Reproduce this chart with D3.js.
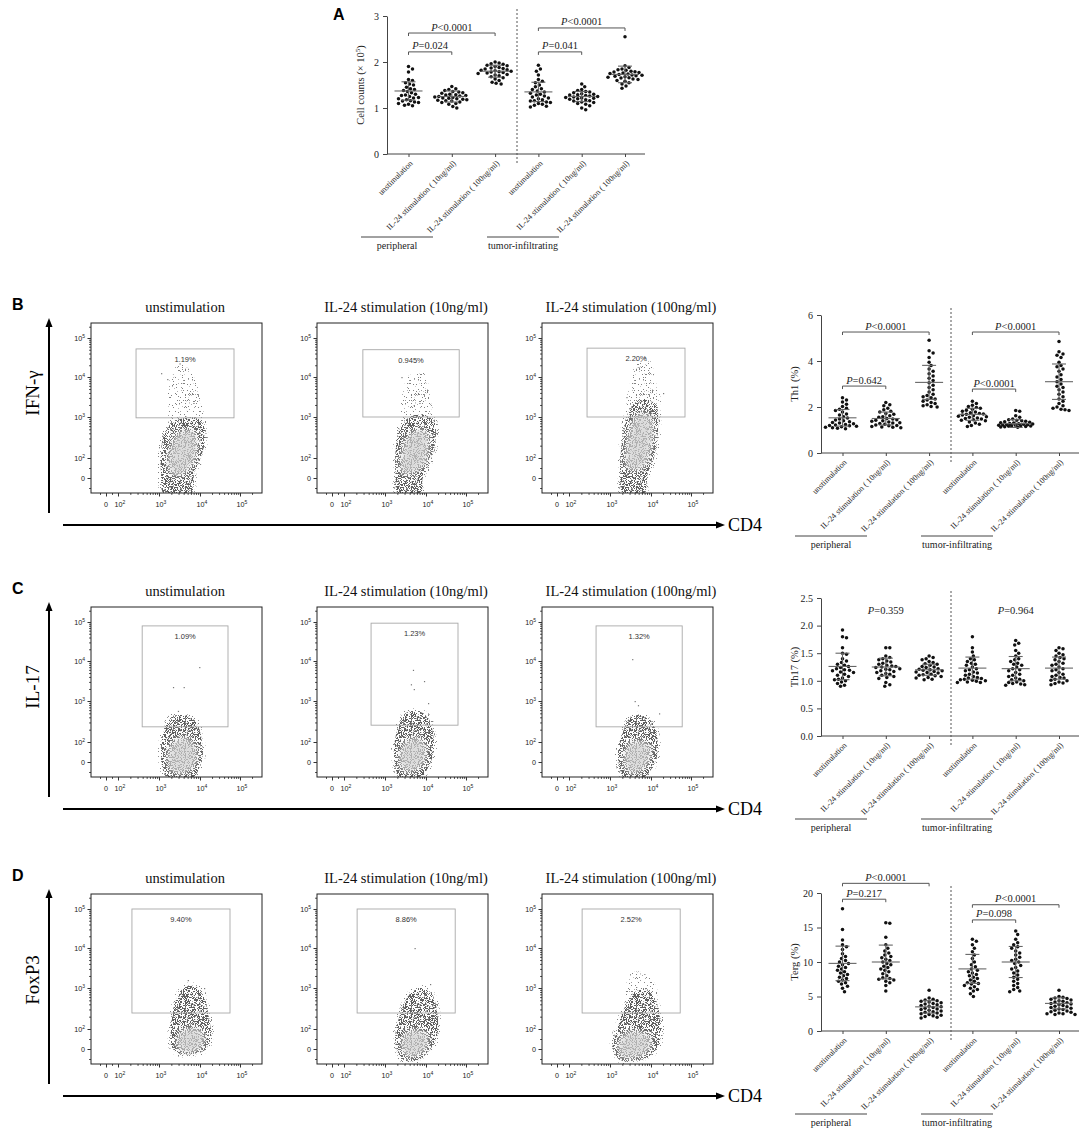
<!DOCTYPE html>
<html>
<head>
<meta charset="utf-8">
<script src="https://cdn.jsdelivr.net/npm/d3@7"></script>
<style>
  body { margin: 0; background: #fff; }
  svg { display: block; }
</style>
</head>
<body>
<div id="chart"></div>
<script>
// ---------- data ----------
const groupLabels = ["unstimulation", "IL-24 stimulation ( 10ng/ml)", "IL-24 stimulation ( 100ng/ml)"];
const sourceLabels = ["peripheral", "tumor-infiltrating"];
const flowTitles = ["unstimulation", "IL-24 stimulation (10ng/ml)", "IL-24 stimulation (100ng/ml)"];

// Panel A, cell counts (x 10^5): periph unstim, 10ng, 100ng, tumor unstim, 10ng, 100ng
const cellCounts = [
  [1.90,1.85,1.78,1.62,1.60,1.55,1.52,1.50,1.45,1.42,1.40,1.38,1.36,1.33,1.30,1.28,1.27,1.25,1.23,1.22,1.20,1.18,1.16,1.15,1.13,1.12,1.10,1.08,1.06,1.05],
  [1.47,1.42,1.40,1.38,1.36,1.35,1.33,1.32,1.30,1.29,1.28,1.27,1.26,1.25,1.24,1.23,1.22,1.21,1.20,1.19,1.18,1.17,1.16,1.15,1.13,1.12,1.10,1.08,1.03,1.00],
  [2.00,1.98,1.96,1.95,1.93,1.92,1.90,1.88,1.87,1.86,1.85,1.83,1.82,1.81,1.80,1.79,1.78,1.77,1.76,1.75,1.73,1.72,1.70,1.68,1.66,1.63,1.60,1.56,1.54,1.52],
  [1.93,1.85,1.80,1.72,1.62,1.58,1.55,1.50,1.46,1.42,1.40,1.37,1.35,1.32,1.30,1.28,1.26,1.24,1.22,1.20,1.18,1.16,1.15,1.13,1.12,1.10,1.08,1.06,1.04,1.02],
  [1.52,1.46,1.40,1.38,1.36,1.35,1.33,1.31,1.30,1.29,1.28,1.27,1.26,1.25,1.24,1.23,1.22,1.21,1.20,1.19,1.18,1.16,1.15,1.13,1.12,1.10,1.08,1.05,1.00,0.96],
  [2.55,1.92,1.88,1.85,1.83,1.82,1.80,1.79,1.78,1.77,1.76,1.75,1.74,1.73,1.72,1.71,1.70,1.69,1.68,1.67,1.66,1.65,1.63,1.62,1.60,1.58,1.55,1.52,1.48,1.43]
];
const cellCountsMean = [1.37, 1.25, 1.80, 1.35, 1.25, 1.73];
const cellCountsSd = [0.20, 0.12, 0.13, 0.21, 0.11, 0.18];
const cellCountsBrackets = [[0, 2, 2.63, "<0.0001"], [0, 1, 2.22, "=0.024"], [3, 5, 2.74, "<0.0001"], [3, 4, 2.22, "=0.041"]];

// Panel B, Th1 (%)
const th1 = [
  [2.40,2.30,2.22,2.12,2.02,1.95,1.90,1.85,1.78,1.70,1.65,1.58,1.52,1.48,1.44,1.40,1.36,1.33,1.30,1.27,1.24,1.22,1.20,1.18,1.16,1.14,1.12,1.10,1.08,1.05],
  [2.20,2.10,2.05,1.95,1.88,1.82,1.78,1.72,1.68,1.62,1.58,1.55,1.50,1.48,1.45,1.42,1.40,1.38,1.35,1.32,1.30,1.28,1.25,1.22,1.20,1.18,1.15,1.13,1.12,1.10],
  [4.90,4.45,4.35,4.15,3.95,3.80,3.65,3.55,3.45,3.35,3.25,3.15,3.05,2.95,2.85,2.75,2.65,2.55,2.50,2.45,2.40,2.35,2.30,2.25,2.20,2.15,2.10,2.05,2.02,2.00],
  [2.25,2.15,2.08,2.02,1.98,1.95,1.90,1.86,1.82,1.78,1.75,1.72,1.70,1.68,1.65,1.62,1.60,1.58,1.55,1.52,1.50,1.48,1.45,1.42,1.40,1.35,1.30,1.25,1.20,1.15],
  [1.85,1.82,1.62,1.55,1.48,1.45,1.42,1.40,1.38,1.36,1.34,1.32,1.30,1.28,1.27,1.26,1.25,1.24,1.23,1.22,1.21,1.20,1.19,1.18,1.17,1.16,1.15,1.14,1.13,1.12],
  [4.85,4.40,4.30,4.25,4.15,3.95,3.80,3.75,3.65,3.55,3.40,3.30,3.20,3.10,3.00,2.90,2.85,2.75,2.65,2.55,2.45,2.35,2.25,2.15,2.05,2.00,1.95,1.90,1.88,1.85]
];
const th1Mean = [1.53, 1.50, 3.07, 1.68, 1.28, 3.10];
const th1Sd = [0.36, 0.28, 0.74, 0.26, 0.17, 0.77];
const th1Brackets = [[0, 2, 5.26, "<0.0001"], [0, 1, 2.91, "=0.642"], [3, 5, 5.26, "<0.0001"], [3, 4, 2.78, "<0.0001"]];

// Panel C, Th17 (%)
const th17 = [
  [1.92,1.80,1.78,1.60,1.50,1.48,1.40,1.36,1.33,1.30,1.28,1.26,1.24,1.22,1.20,1.19,1.18,1.16,1.15,1.12,1.10,1.08,1.05,1.03,1.02,1.00,0.98,0.95,0.92,0.90],
  [1.60,1.60,1.45,1.42,1.40,1.38,1.36,1.34,1.32,1.30,1.28,1.27,1.26,1.25,1.24,1.22,1.21,1.20,1.18,1.17,1.15,1.13,1.12,1.10,1.08,1.06,1.04,0.97,0.93,0.90],
  [1.45,1.42,1.40,1.38,1.35,1.33,1.31,1.30,1.28,1.26,1.25,1.24,1.22,1.21,1.20,1.19,1.18,1.17,1.16,1.15,1.14,1.12,1.11,1.10,1.09,1.08,1.06,1.05,1.03,1.02],
  [1.80,1.60,1.52,1.45,1.40,1.38,1.35,1.32,1.30,1.28,1.25,1.22,1.20,1.18,1.16,1.14,1.12,1.10,1.08,1.06,1.05,1.04,1.03,1.02,1.01,1.00,0.99,0.98,0.97,0.97],
  [1.73,1.68,1.65,1.55,1.50,1.45,1.40,1.38,1.35,1.32,1.30,1.28,1.25,1.22,1.20,1.18,1.15,1.12,1.10,1.08,1.05,1.03,1.02,1.00,0.98,0.97,0.95,0.94,0.93,0.92],
  [1.60,1.58,1.55,1.50,1.47,1.45,1.42,1.40,1.38,1.35,1.32,1.30,1.28,1.25,1.22,1.20,1.18,1.15,1.12,1.10,1.08,1.06,1.05,1.03,1.01,1.00,0.98,0.96,0.95,0.93]
];
const th17Mean = [1.26, 1.25, 1.20, 1.23, 1.22, 1.23];
const th17Sd = [0.24, 0.16, 0.10, 0.20, 0.22, 0.20];
const th17Notes = [[1, 2.21, "=0.359"], [4, 2.21, "=0.964"]];

// Panel D, Terg (%)
const terg = [
  [17.7,14.7,13.2,12.5,12.2,11.8,11.2,10.8,10.5,10.2,10.0,9.8,9.6,9.4,9.2,9.0,8.8,8.6,8.4,8.2,8.0,7.8,7.6,7.4,7.2,7.0,6.8,6.5,6.2,5.7],
  [15.7,15.6,13.6,12.5,12.0,11.6,11.3,11.0,10.8,10.6,10.4,10.2,10.0,9.8,9.6,9.4,9.2,9.0,8.8,8.6,8.3,8.0,7.7,7.6,7.5,7.4,7.2,7.0,6.6,5.8],
  [5.9,4.8,4.6,4.5,4.4,4.3,4.2,4.1,4.0,3.9,3.8,3.7,3.6,3.5,3.4,3.3,3.2,3.1,3.0,2.9,2.8,2.7,2.6,2.5,2.4,2.3,2.2,2.1,2.0,1.9],
  [13.3,13.0,12.5,12.0,11.5,11.0,10.5,10.0,9.6,9.3,9.0,8.8,8.6,8.4,8.2,8.0,7.8,7.6,7.4,7.2,7.0,6.9,6.8,6.6,6.4,6.2,6.0,5.8,5.4,5.0],
  [14.5,14.0,13.3,12.8,12.5,12.2,12.0,11.6,11.3,11.0,10.7,10.4,10.2,10.0,9.8,9.5,9.2,9.0,8.7,8.4,8.1,7.8,7.5,7.2,6.9,6.6,6.3,6.0,5.8,5.7],
  [5.9,5.0,4.9,4.8,4.7,4.6,4.5,4.4,4.3,4.2,4.1,4.0,3.9,3.8,3.7,3.6,3.5,3.4,3.3,3.2,3.1,3.0,2.9,2.8,2.7,2.6,2.5,2.5,2.4,2.4]
];
const tergMean = [9.8, 10.0, 3.5, 9.0, 10.0, 4.0];
const tergSd = [2.5, 2.45, 0.9, 2.1, 2.25, 0.8];
const tergBrackets = [[0, 2, 21.4, "<0.0001"], [0, 1, 19.1, "=0.217"], [3, 5, 18.3, "<0.0001"], [3, 4, 16.1, "=0.098"]];

// Flow plots: gates [xmin, xmax, ymin, ymax] and event clouds in log10 decades
const ifnPercent = ["1.19%", "0.945%", "2.20%"];
const il17Percent = ["1.09%", "1.23%", "1.32%"];
const foxp3Percent = ["9.40%", "8.86%", "2.52%"];

const ifnGates = [[2.44, 4.85, 2.98, 4.72], [2.46, 4.83, 3.0, 4.7], [2.44, 4.85, 3.0, 4.74]];
const il17Gates = [[2.59, 4.7, 2.37, 4.9], [2.66, 4.8, 2.41, 4.97], [2.66, 4.78, 2.37, 4.9]];
const foxp3Gates = [[2.34, 4.75, 2.39, 5.0], [2.32, 4.73, 2.39, 5.0], [2.32, 4.73, 2.39, 5.0]];

const ifnClouds = [
  { outer: [[3.12,-1.6],[3.05,0.5],[3.04,1.8],[3.1,2.5],[3.3,2.85],[3.6,2.97],[3.9,2.97],[4.1,2.85],[4.12,2.4],[3.97,1.5],[3.86,0.5],[3.78,-1.6]],
    core: [[3.28,0.6],[3.26,2.1],[3.5,2.6],[3.82,2.65],[3.9,2.1],[3.72,1.0],[3.5,0.3]],
    tail: [[3.3,2.8],[3.22,3.6],[3.35,4.2],[3.6,4.3],[3.85,4.0],[4.02,3.4],[4.08,2.85]],
    dots: [[3.05,4.1],[3.2,3.95],[3.5,4.35]] },
  { outer: [[3.32,-1.6],[3.26,0.5],[3.25,2.0],[3.35,2.7],[3.6,3.0],[3.95,3.05],[4.2,2.9],[4.22,2.3],[4.06,1.3],[3.92,0],[3.86,-1.6]],
    core: [[3.44,0.5],[3.42,2.1],[3.65,2.6],[3.98,2.65],[4.02,2.0],[3.8,0.8]],
    tail: [[3.45,2.95],[3.45,3.7],[3.6,4.05],[3.95,4.1],[4.1,3.5],[4.15,2.95]],
    dots: [[3.4,4.0],[3.7,3.3]] },
  { outer: [[3.32,-1.6],[3.25,0.5],[3.27,2.2],[3.4,3.0],[3.6,3.35],[3.85,3.45],[4.12,3.3],[4.18,2.8],[4.06,1.8],[3.92,0.5],[3.82,-1.6]],
    core: [[3.44,1.0],[3.46,2.5],[3.68,3.05],[3.98,3.0],[4.0,2.3],[3.8,1.1]],
    tail: [[3.45,3.2],[3.5,3.9],[3.7,4.45],[3.95,4.45],[4.12,3.9],[4.22,3.3]],
    dots: [[4.3,3.6],[3.85,4.5],[3.4,3.5]] }
];
const il17Clouds = [
  { outer: [[3.2,-1.6],[3.08,-0.5],[3.05,1.0],[3.1,2.2],[3.3,2.6],[3.6,2.65],[3.9,2.5],[4.05,2.0],[4.06,0.5],[3.96,-0.8],[3.82,-1.6]],
    core: [[3.3,-0.8],[3.24,1.0],[3.38,2.0],[3.66,2.1],[3.88,1.5],[3.88,-0.1],[3.62,-1.0]],
    dots: [[3.98,3.85],[3.34,3.35],[3.6,3.35],[3.46,2.76]] },
  { outer: [[3.35,-1.6],[3.25,-0.3],[3.22,1.2],[3.3,2.3],[3.5,2.7],[3.8,2.75],[4.05,2.6],[4.2,2.0],[4.16,0.5],[4.02,-0.8],[3.86,-1.6]],
    core: [[3.44,-0.7],[3.38,1.0],[3.53,2.0],[3.82,2.1],[3.98,1.3],[3.92,-0.1],[3.7,-0.8]],
    dots: [[3.68,3.78],[3.95,3.5],[3.63,3.42],[3.7,3.3],[4.05,2.95]] },
  { outer: [[3.35,-1.6],[3.22,-0.3],[3.2,1.2],[3.3,2.2],[3.5,2.6],[3.8,2.65],[4.05,2.45],[4.17,1.8],[4.13,0.3],[3.96,-1.0],[3.8,-1.6]],
    core: [[3.44,-0.8],[3.38,1.0],[3.53,1.9],[3.82,2.0],[3.98,1.2],[3.88,-0.3],[3.65,-1.0]],
    dots: [[3.54,4.05],[3.68,2.9],[4.2,2.7],[3.6,3.0]] }
];
const foxp3Clouds = [
  { outer: [[3.45,-0.4],[3.3,0.3],[3.28,1.5],[3.35,2.5],[3.55,2.95],[3.8,3.07],[4.05,2.9],[4.22,2.3],[4.27,1.2],[4.15,0.0],[3.9,-0.45]],
    core: [[3.52,-0.1],[3.46,1.0],[3.62,1.9],[3.98,1.9],[4.1,1.0],[3.98,0.0],[3.75,-0.25]],
    dots: [[3.7,3.2],[4.1,3.0]] },
  { outer: [[3.45,-1.1],[3.3,-0.2],[3.25,1.2],[3.35,2.3],[3.6,2.85],[3.9,3.0],[4.15,2.85],[4.3,2.2],[4.25,1.0],[4.05,-0.3],[3.8,-1.1]],
    core: [[3.48,-0.5],[3.42,0.8],[3.58,1.7],[3.92,1.7],[4.05,0.7],[3.88,-0.4],[3.65,-0.7]],
    dots: [[3.72,4.0],[4.1,3.1]] },
  { outer: [[3.25,-1.1],[3.1,-0.3],[3.07,0.8],[3.15,1.8],[3.35,2.5],[3.6,2.9],[3.9,2.95],[4.15,2.6],[4.25,1.8],[4.2,0.5],[4.0,-0.6],[3.7,-1.1]],
    core: [[3.28,-0.7],[3.22,0.6],[3.38,1.5],[3.78,1.6],[4.0,0.8],[3.88,-0.3],[3.55,-0.8]],
    tail: [[3.4,2.6],[3.5,3.35],[3.75,3.4],[4.1,3.1],[4.15,2.7]],
    dots: [] }
];

// ---------- setup ----------
const W = 1084, H = 1128;
const serif = '"Liberation Serif","Times New Roman",serif';
const sans = '"Liberation Sans",Arial,sans-serif';

const svg = d3.select("#chart").append("svg")
  .attr("width", W).attr("height", H)
  .attr("viewBox", `0 0 ${W} ${H}`);
const defs = svg.append("defs");

// speckle textures for event clouds
function addSpeckle(id, threshold) {
  const f = defs.append("filter").attr("id", id)
    .attr("x", "-20%").attr("y", "-20%").attr("width", "140%").attr("height", "140%")
    .attr("color-interpolation-filters", "sRGB");
  f.append("feTurbulence").attr("type", "fractalNoise").attr("baseFrequency", 1.3)
    .attr("numOctaves", 1).attr("seed", 11).attr("result", "n");
  f.append("feColorMatrix").attr("in", "n").attr("type", "matrix")
    .attr("values", `0 0 0 0 0  0 0 0 0 0  0 0 0 0 0  25 0 0 0 ${-25 * threshold}`)
    .attr("result", "m");
  f.append("feComposite").attr("in", "SourceGraphic").attr("in2", "m").attr("operator", "in");
}
addSpeckle("spk-dense", 0.49);
addSpeckle("spk-mid", 0.52);
addSpeckle("spk-sparse", 0.63);
defs.append("filter").attr("id", "soft").attr("x", "-30%").attr("y", "-30%").attr("width", "160%").attr("height", "160%")
  .append("feGaussianBlur").attr("stdDeviation", 3);

// ---------- scatter dot plots ----------
function swarm(values, y, r, maxOff) {
  const placed = [];
  const pts = values.map(v => ({ v, py: y(v) })).sort((a, b) => a.py - b.py);
  const minD = 2 * r + 0.4;
  pts.forEach(p => {
    let best = 0, bestD = -1;
    for (let k = 0; k <= 2 * maxOff; k++) {
      const off = (k % 2 ? 1 : -1) * Math.ceil(k / 2);
      const d = placed.length ? d3.min(placed, q => Math.hypot(q.dx - off, q.py - p.py)) : Infinity;
      if (d >= minD) { best = off; bestD = d; break; }
      if (d > bestD) { best = off; bestD = d; }
    }
    p.dx = best;
    placed.push(p);
  });
  return placed;
}

function scatterPanel(o) {
  const g = svg.append("g");
  const y = d3.scaleLinear().domain([0, o.max]).range([o.zero, o.zero - 138]);
  const x = d3.scalePoint().domain(d3.range(6)).range([o.ax + 21.5, o.ax + 238]);

  // y axis
  g.append("g").attr("transform", `translate(${o.ax},0)`)
    .call(d3.axisLeft(y).tickValues(o.ticks).tickSize(4).tickSizeOuter(0).tickFormat(o.fmt))
    .call(a => a.selectAll("path,line").attr("stroke", "#444"))
    .call(a => a.selectAll("text").attr("font-family", serif).attr("font-size", 10).attr("fill", "#222").attr("dx", "-1"));

  // x axis
  g.append("line").attr("x1", o.ax).attr("x2", o.ax + 258).attr("y1", o.zero).attr("y2", o.zero).attr("stroke", "#444");
  g.append("g").attr("transform", `translate(0,${o.zero})`)
    .call(d3.axisBottom(x).tickSize(3).tickSizeOuter(0).tickFormat(""))
    .call(a => a.select(".domain").remove())
    .call(a => a.selectAll("line").attr("stroke", "#444"));

  g.selectAll("text.xl").data(d3.range(6)).join("text")
    .attr("class", "xl")
    .attr("transform", i => `translate(${x(i) + 3},${o.zero + 8}) rotate(-45)`)
    .attr("text-anchor", "end").attr("dy", "0.3em")
    .attr("font-family", serif).attr("font-size", 8.2).attr("fill", "#222")
    .text(i => groupLabels[i % 3]);

  // group underlines
  [[o.ax - 26, o.ax + 46], [o.ax + 100, o.ax + 172]].forEach((s, i) => {
    g.append("line").attr("x1", s[0]).attr("x2", s[1]).attr("y1", o.zero + 83).attr("y2", o.zero + 83)
      .attr("stroke", "#444");
    g.append("text").attr("x", (s[0] + s[1]) / 2).attr("y", o.zero + 95)
      .attr("text-anchor", "middle").attr("font-family", serif).attr("font-size", 10).attr("fill", "#222")
      .text(sourceLabels[i]);
  });

  // dashed separator
  g.append("line").attr("x1", o.ax + 130).attr("x2", o.ax + 130)
    .attr("y1", o.zero - 145).attr("y2", o.zero + 11)
    .attr("stroke", "#555").attr("stroke-dasharray", "2,2");

  // y label
  const yl = g.append("text").attr("transform", `translate(${o.ax - 23},${o.zero - 69}) rotate(-90)`)
    .attr("text-anchor", "middle").attr("font-family", serif).attr("font-size", 10.5).attr("fill", "#222");
  yl.append("tspan").text(o.yLabel);
  if (o.ySup) {
    yl.append("tspan").attr("dy", -4).attr("font-size", 7).text(o.ySup);
    yl.append("tspan").attr("dy", 4).text(")");
  }

  // dots
  o.data.forEach((vals, i) => {
    g.append("g").selectAll("circle").data(swarm(vals, y, 1.75, 17)).join("circle")
      .attr("cx", d => x(i) + d.dx).attr("cy", d => d.py).attr("r", 1.75).attr("fill", "#111");
  });

  // mean and SD
  o.data.forEach((vals, i) => {
    const m = o.mean[i], s = o.sd[i], cx = x(i);
    const bar = g.append("g").attr("stroke", "#666").attr("stroke-width", 1.1);
    bar.append("line").attr("x1", cx - 14).attr("x2", cx + 14).attr("y1", y(m)).attr("y2", y(m));
    bar.append("line").attr("x1", cx).attr("x2", cx).attr("y1", y(m - s)).attr("y2", y(m + s));
    [m - s, m + s].forEach(v => bar.append("line").attr("x1", cx - 7).attr("x2", cx + 7).attr("y1", y(v)).attr("y2", y(v)));
  });

  // significance brackets
  (o.brackets || []).forEach(b => {
    const yy = y(b[2]);
    g.append("path")
      .attr("d", `M${x(b[0])},${yy + 3}V${yy}H${x(b[1])}V${yy + 3}`)
      .attr("fill", "none").attr("stroke", "#555");
    pText(g, (x(b[0]) + x(b[1])) / 2, yy - 2.5, b[3]);
  });
  (o.notes || []).forEach(n => pText(g, x(n[0]), y(n[1]), n[2]));
}

function pText(g, cx, cy, txt) {
  const t = g.append("text").attr("x", cx).attr("y", cy).attr("text-anchor", "middle")
    .attr("font-family", serif).attr("font-size", 10.5).attr("fill", "#222");
  t.append("tspan").attr("font-style", "italic").text("P");
  t.append("tspan").text(txt);
}

scatterPanel({ ax: 387, zero: 154, max: 3, ticks: [0, 1, 2, 3], fmt: d3.format("d"),
  yLabel: "Cell counts (× 10", ySup: "5", data: cellCounts, mean: cellCountsMean, sd: cellCountsSd, brackets: cellCountsBrackets });
scatterPanel({ ax: 821, zero: 453, max: 6, ticks: [0, 2, 4, 6], fmt: d3.format("d"),
  yLabel: "Th1 (%)", data: th1, mean: th1Mean, sd: th1Sd, brackets: th1Brackets });
scatterPanel({ ax: 821, zero: 736, max: 2.5, ticks: [0, 0.5, 1, 1.5, 2, 2.5], fmt: d3.format(".1f"),
  yLabel: "Th17 (%)", data: th17, mean: th17Mean, sd: th17Sd, notes: th17Notes });
scatterPanel({ ax: 821, zero: 1031, max: 20, ticks: [0, 5, 10, 15, 20], fmt: d3.format("d"),
  yLabel: "Terg (%)", data: terg, mean: tergMean, sd: tergSd, brackets: tergBrackets });

// ---------- flow cytometry plots ----------
const flowW = 171, flowH = 170;
const flowLeft = [91, 317, 542];
const titleX = [185, 406, 631];
const flowX = d3.scaleLinear().domain([-2.5, 0, 2, 3, 4, 5, 5.55]).range([0, 15, 27, 68, 109, 149, flowW]);
const flowY = d3.scaleLinear().domain([-1.5, 0, 2, 3, 4, 5, 5.4]).range([flowH, 155, 135, 94, 54, 15, 0]);
const majorTicks = [0, 2, 3, 4, 5];
const minorTicks = [-1, 1].concat(...[2, 3, 4].map(d => d3.range(2, 10).map(k => d + Math.log10(k))), [5 + Math.log10(2)]);

function decadeLabel(sel, e) {
  if (e === 0) { sel.text("0"); return; }
  sel.append("tspan").text("10");
  sel.append("tspan").attr("dy", -3).attr("font-size", 5).text(e);
}

function flowPlot(left, top, cloud, gate, pct, k) {
  const g = svg.append("g").attr("transform", `translate(${left},${top})`);
  const clipId = `clip-${k}`;
  defs.append("clipPath").attr("id", clipId).append("rect").attr("width", flowW).attr("height", flowH);
  const blob = d3.line().x(d => flowX(d[0])).y(d => flowY(d[1])).curve(d3.curveCatmullRomClosed.alpha(0.5));
  const c = g.append("g").attr("clip-path", `url(#${clipId})`);

  if (cloud.tail) c.append("path").attr("d", blob(cloud.tail)).attr("fill", "#808080").attr("filter", "url(#spk-sparse)");
  c.append("path").attr("d", blob(cloud.outer)).attr("fill", "none").attr("stroke", "#808080")
    .attr("stroke-width", 6).attr("filter", "url(#spk-sparse)");
  c.append("path").attr("d", blob(cloud.outer)).attr("fill", "#5e5e5e").attr("filter", "url(#spk-dense)");
  c.append("path").attr("d", blob(cloud.core)).attr("fill", "#dcdcdc").attr("filter", "url(#soft)");
  c.append("path").attr("d", blob(cloud.core)).attr("fill", "#a6a6a6").attr("opacity", 0.8).attr("filter", "url(#spk-mid)");
  c.selectAll("rect.ev").data(cloud.dots || []).join("rect").attr("class", "ev")
    .attr("x", d => flowX(d[0])).attr("y", d => flowY(d[1])).attr("width", 1.2).attr("height", 1.2).attr("fill", "#777");

  // gate
  g.append("rect")
    .attr("x", flowX(gate[0])).attr("y", flowY(gate[3]))
    .attr("width", flowX(gate[1]) - flowX(gate[0])).attr("height", flowY(gate[2]) - flowY(gate[3]))
    .attr("fill", "none").attr("stroke", "#a8a8a8").attr("stroke-width", 0.9);
  g.append("text").attr("x", (flowX(gate[0]) + flowX(gate[1])) / 2).attr("y", flowY(gate[3]) + 13)
    .attr("text-anchor", "middle").attr("font-family", sans).attr("font-size", 7.5).attr("fill", "#333")
    .text(pct);

  // frame and ticks
  g.append("rect").attr("width", flowW).attr("height", flowH).attr("fill", "none").attr("stroke", "#222");
  const tickStyle = a => a.call(s => s.select(".domain").remove()).call(s => s.selectAll("line").attr("stroke", "#333"));
  g.append("g").call(d3.axisLeft(flowY).tickValues(majorTicks).tickSize(3.5).tickFormat("")).call(tickStyle);
  g.append("g").call(d3.axisLeft(flowY).tickValues(minorTicks).tickSize(1.8).tickFormat("")).call(tickStyle);
  g.append("g").attr("transform", `translate(0,${flowH})`)
    .call(d3.axisBottom(flowX).tickValues(majorTicks).tickSize(3.5).tickFormat("")).call(tickStyle);
  g.append("g").attr("transform", `translate(0,${flowH})`)
    .call(d3.axisBottom(flowX).tickValues(minorTicks).tickSize(1.8).tickFormat("")).call(tickStyle);

  g.selectAll("text.yt").data(majorTicks).join("text").attr("class", "yt")
    .attr("x", -6).attr("y", d => flowY(d) + 2.5).attr("text-anchor", "end")
    .attr("font-family", sans).attr("font-size", 7.2).attr("fill", "#222")
    .each(function (d) { decadeLabel(d3.select(this), d); });
  g.selectAll("text.xt").data(majorTicks).join("text").attr("class", "xt")
    .attr("x", d => flowX(d) + (d === 0 ? 0 : 2)).attr("y", flowH + 14).attr("text-anchor", "middle")
    .attr("font-family", sans).attr("font-size", 7.2).attr("fill", "#222")
    .each(function (d) { decadeLabel(d3.select(this), d); });
}

function arrowHead(x, y, dir) {
  const p = dir === "up" ? `M${x},${y}L${x - 3.5},${y + 9}L${x + 3.5},${y + 9}Z` : `M${x},${y}L${x - 9},${y - 3.5}L${x - 9},${y + 3.5}Z`;
  svg.append("path").attr("d", p).attr("fill", "#000");
}

function flowRow(top, letter, marker, markerY, clouds, gates, percents, key) {
  svg.append("text").attr("x", 12).attr("y", top - 13).attr("font-family", sans).attr("font-weight", "bold")
    .attr("font-size", 16).text(letter);
  flowTitles.forEach((t, i) => {
    svg.append("text").attr("x", titleX[i]).attr("y", top - 11).attr("text-anchor", "middle")
      .attr("font-family", serif).attr("font-size", 14.5).attr("fill", "#111").text(t);
  });
  clouds.forEach((cl, i) => flowPlot(flowLeft[i], top, cl, gates[i], percents[i], key + i));

  // marker arrow
  svg.append("line").attr("x1", 49).attr("x2", 49).attr("y1", top + 190).attr("y2", top + 2)
    .attr("stroke", "#000").attr("stroke-width", 2);
  arrowHead(49, top - 5, "up");
  svg.append("text").attr("transform", `translate(39,${markerY}) rotate(-90)`).attr("text-anchor", "middle")
    .attr("font-family", serif).attr("font-size", 19).text(marker);

  // CD4 arrow
  svg.append("line").attr("x1", 63).attr("x2", 717).attr("y1", top + 202).attr("y2", top + 202)
    .attr("stroke", "#000").attr("stroke-width", 2);
  arrowHead(725, top + 202, "right");
  svg.append("text").attr("x", 728).attr("y", top + 208).attr("font-family", serif).attr("font-size", 18).text("CD4");
}

svg.append("text").attr("x", 333).attr("y", 20).attr("font-family", sans).attr("font-weight", "bold")
  .attr("font-size", 16).text("A");

flowRow(323, "B", "IFN-γ", 393, ifnClouds, ifnGates, ifnPercent, "b");
flowRow(607, "C", "IL-17", 687, il17Clouds, il17Gates, il17Percent, "c");
flowRow(894, "D", "FoxP3", 980, foxp3Clouds, foxp3Gates, foxp3Percent, "d");
</script>
</body>
</html>
